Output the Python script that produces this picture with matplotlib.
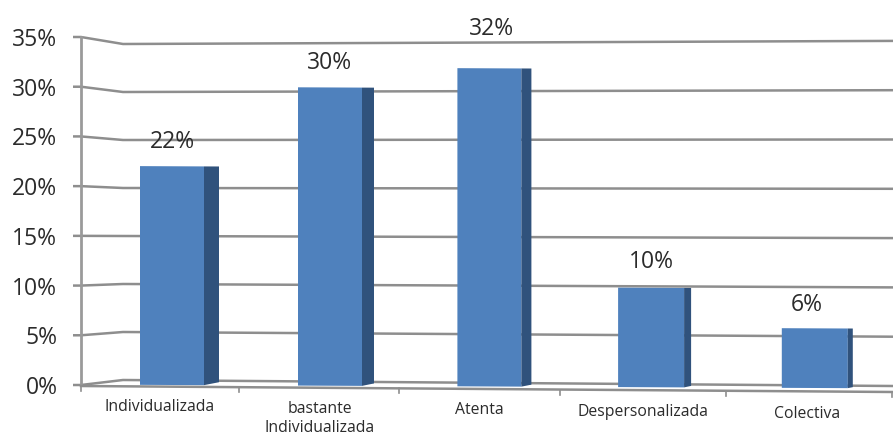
import matplotlib
matplotlib.use("Agg")
import matplotlib.pyplot as plt
from matplotlib.patches import Polygon
from matplotlib.transforms import Affine2D
import numpy as np

categories = ["Individualizada", "bastante\nIndividualizada", "Atenta", "Despersonalizada", "Colectiva"]
values = [22, 30, 32, 10, 6]
y_ticks = [0, 5, 10, 15, 20, 25, 30, 35]
y_labels = ["0%", "5%", "10%", "15%", "20%", "25%", "30%", "35%"]

W, H = 893, 441
plt.rcParams["font.family"] = ["Open Sans", "DejaVu Sans"]
fig = plt.figure(figsize=(W / 100, H / 100), dpi=100, facecolor="white")

# layout (pixels of the canvas)
L, R, B, T = 81, 893, 385, 37
ax = fig.add_axes([L / W, (H - B) / H, (R - L) / W, (B - T) / H])
ax.set_facecolor("white")
ax.set_ylim(0, 35)
step = 160.7
x0 = 172.0
ax.set_xlim((L - x0) / step, (R - x0) / step)

px_per_unit = (B - T) / 35
def px_to_y(p):
    return (B - p) / px_per_unit
def px_to_x(p):
    return (p - x0) / step

# floor slope: everything at the front droops slightly to the right
k = -3 / 644
skew = Affine2D(np.array([[1, 0, 0], [k, 1, -k * x0], [0, 0, 1]]))
tr = ax.transData + skew

GRID = "#8e8e8e"
FRONT = "#4f81bd"
SIDE = "#30527c"
TEXT = "#2b2b2b"

# walls and gridlines
wall_x = 123
for v in y_ticks:
    xs = [px_to_x(L - 8), px_to_x(L), px_to_x(wall_x), px_to_x(R)]
    ys = [v, v, px_to_y(380 - 9.6 * v), px_to_y(386 - 9.86 * v)]
    ax.plot(xs, ys, color=GRID, lw=1.8, zorder=1, clip_on=False, solid_capstyle="butt")

# left axis
ax.plot([px_to_x(L)] * 2, [0, 35], color="#9a9a9a", lw=2, zorder=1.5, clip_on=False)

# front floor edge with ticks
ax.plot([px_to_x(L), px_to_x(R)], [px_to_y(386), px_to_y(392)], color=GRID, lw=1.8,
        zorder=1.5, clip_on=False)
for p in [81, 239, 399, 560, 726, 892]:
    yb = 386 + (p - L) * 6 / (R - L)
    ax.plot([px_to_x(p)] * 2, [px_to_y(yb), px_to_y(yb + 5)], color=GRID, lw=1.2,
            zorder=1.5, clip_on=False)

# bars (perspective: side faces narrow to the right)
nudge = [0, -2.7, -4, -3, 0]
bar_px = [64, 64, 64, 66, 66]
depth_px = [15, 12, 10, 7, 5]
rise_px = [3, 2.5, 2, 1.5, 1]
xpos = np.arange(len(values)) + np.array(nudge) / step
ax.bar(xpos, values, width=np.array(bar_px) / step, color=FRONT, zorder=3, transform=tr,
       clip_on=False, linewidth=0)
for x, v, bw, d, ri in zip(xpos, values, bar_px, depth_px, rise_px):
    r = x + bw / 2 / step
    ax.add_patch(Polygon([(r, 0), (r + d / step, ri / px_per_unit), (r + d / step, v), (r, v)],
                         closed=True, facecolor=SIDE, edgecolor="none", zorder=3,
                         transform=tr, clip_on=False))

# value labels
dx_val = [0, 0, 2, 0, -8]
dy_val = [24, 24, 39, 26, 23]
for x, v, dx, dy in zip(xpos, values, dx_val, dy_val):
    ax.annotate(f"{v}%", xy=(x, v), xycoords=tr, xytext=(dx * 0.72, dy * 0.72),
                textcoords="offset points", ha="center", va="center",
                fontsize=16.5, color=TEXT, zorder=5, annotation_clip=False)

# category labels
dx_cat = [-12, -10, -10, -8, -8]
dy_cat = [-14, -15, -16, -17, -18]
for x, c, dx, dy in zip(xpos, categories, dx_cat, dy_cat):
    ax.annotate(c, xy=(x, 0), xycoords=tr, xytext=(dx * 0.72, dy * 0.72),
                textcoords="offset points", ha="center", va="top", linespacing=1.25,
                fontsize=11.3, color=TEXT, annotation_clip=False)

# axis text
ax.set_xticks([])
ax.set_yticks(y_ticks)
ax.set_yticklabels(y_labels, fontsize=16.5, color=TEXT)
ax.tick_params(axis="y", length=0, pad=17)
for s in ax.spines.values():
    s.set_visible(False)

fig.savefig("out.png", dpi=100, facecolor="white")
